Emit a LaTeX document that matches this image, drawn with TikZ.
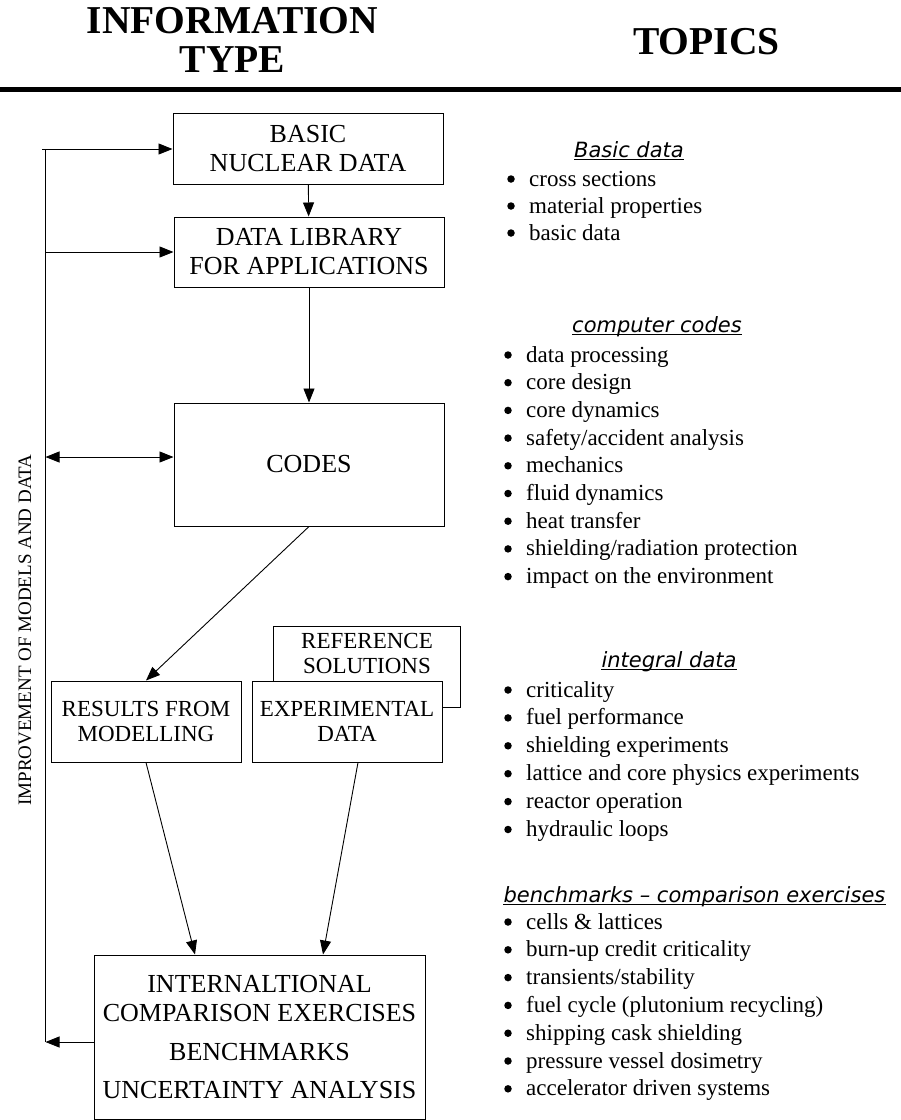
\documentclass[tikz,border=0pt]{standalone}
\usepackage{fontspec}
\setmainfont{Liberation Serif}
\newfontfamily\topicfont{DejaVu Sans}
\usepackage{tikz}
\usetikzlibrary{%
arrows.meta,
calc,
positioning
}

\tikzset{
  boxtext/.style={align=center,inner sep=0pt,font=\fontsize{26}{29}\selectfont},
  box/.style={boxtext,draw,line width=1pt},
  smalltext/.style={boxtext,font=\fontsize{23}{25}\selectfont},
  smallbox/.style={box,font=\fontsize{23}{25}\selectfont},
  link/.style={line width=0.9pt,-{Triangle[length=14pt,width=11pt]}},
  twolink/.style={line width=0.9pt,{Triangle[length=14pt,width=11pt]}-{Triangle[length=14pt,width=11pt]}},
  head/.style={align=center,inner sep=0pt,font=\bfseries\fontsize{39.5}{39}\selectfont},
  topic/.style={anchor=base,inner sep=0pt,font=\topicfont\itshape\fontsize{21}{25}\selectfont},
  item/.style={anchor=base west,inner sep=0pt,font=\fontsize{23}{27}\selectfont},
  dot/.style={circle,fill,inner sep=0pt,minimum size=7.5pt}
}

\begin{document}
\begin{tikzpicture}[x=1pt,y=-1pt]
\useasboundingbox (0,0) rectangle (901,1120);
% headings
\node[head] (infotype) at (232.5,40) {INFORMATION\\TYPE};
\node[head] (topics) at (706.5,41.5) {TOPICS};
\draw[line width=4.5pt] (0,89.5) -- (901,89.5);

% information types
\node[box,minimum width=270pt,minimum height=71pt] (basic) at (308,148.5) {BASIC\\NUCLEAR DATA};
\node[box,minimum width=270pt,minimum height=70pt] (library) at (309,252) {DATA LIBRARY\\FOR APPLICATIONS};
\node[box,minimum width=270pt,minimum height=123pt] (codes) at (309,464.5) {CODES};
\node[smallbox,minimum width=190pt,minimum height=81pt] (results) at (146,721.5) {RESULTS FROM\\MODELLING};
\node[box,minimum width=187pt,minimum height=81pt] (refsol) at (366.5,666.5) {};
\node[smalltext] (reftext) at (367,653) {REFERENCE\\SOLUTIONS};
\node[smallbox,fill=white,minimum width=190pt,minimum height=81pt] (exper) at (347,721.5) {EXPERIMENTAL\\DATA};
\node[box,minimum width=331pt,minimum height=164pt] (intl) at (259.5,1037)
  {INTERNALTIONAL\\COMPARISON EXERCISES\\[10pt]BENCHMARKS\\[9pt]UNCERTAINTY ANALYSIS};

\draw[link] (basic) -- (library);
\draw[link] (library) -- (codes);
\draw[link] (codes.south) -- (results.north);
\draw[link] (results.south) -- ([xshift=-64.5pt]intl.north);
\draw[link] ([xshift=11pt]exper.south) -- ([xshift=63.5pt]intl.north);

% feedback loop
\coordinate (fbtop) at (45.5,149);
\coordinate (fbcodes) at (45.5,457);
\coordinate (fbbot) at (45.5,1042);
\draw[line width=0.9pt] (fbtop) -- (fbbot);
\draw[link] ([xshift=-3.5pt]fbtop) -- (fbtop -| basic.west);
\draw[link] (fbtop |- library.west) -- (library.west);
\draw[twolink] (fbcodes) -- (fbcodes -| codes.west);
\draw[link] (fbbot -| intl.west) -- (fbbot);
\node[rotate=90,inner sep=0pt,font=\fontsize{19}{19}\selectfont] (improve) at (25,630) {IMPROVEMENT OF MODELS AND DATA};

% topics
\node[topic] (tbasic) at (629,157) {Basic data};
\foreach \txt [count=\i] in {cross sections,material properties,basic data} {
  \node[dot] (bdot\i) at (511,{179+27*(\i-1)}) {};
  \node[item] (bitem\i) at (529,{186+27*(\i-1)}) {\txt};
}
\node[topic] (tcodes) at (657,332) {computer codes};
\foreach \txt [count=\i] in {data processing,core design,core dynamics,safety/accident analysis,mechanics,fluid dynamics,heat transfer,shielding/radiation protection,impact on the environment} {
  \node[dot] (cdot\i) at (508,{355+27.7*(\i-1)}) {};
  \node[item] (citem\i) at (526,{362+27.7*(\i-1)}) {\txt};
}
\node[topic] (tintegral) at (669,667) {integral data};
\foreach \txt [count=\i] in {criticality,fuel performance,shielding experiments,lattice and core physics experiments,reactor operation,hydraulic loops} {
  \node[dot] (idot\i) at (508,{690+27.9*(\i-1)}) {};
  \node[item] (iitem\i) at (526,{697+27.9*(\i-1)}) {\txt};
}
\node[topic] (tbench) at (694.5,902) {benchmarks – comparison exercises};
\foreach \txt [count=\i] in {cells \& lattices,burn-up credit criticality,transients/stability,{fuel cycle (plutonium recycling)},shipping cask shielding,pressure vessel dosimetry,accelerator driven systems} {
  \node[dot] (mdot\i) at (508,{922+27.8*(\i-1)}) {};
  \node[item] (mitem\i) at (526,{929+27.8*(\i-1)}) {\txt};
}
\foreach \n in {tbasic,tcodes,tintegral,tbench}
  \draw[line width=1.1pt] ([yshift=-2.5pt]\n.base west) -- ([yshift=-2.5pt]\n.base east);
\end{tikzpicture}
\end{document}
